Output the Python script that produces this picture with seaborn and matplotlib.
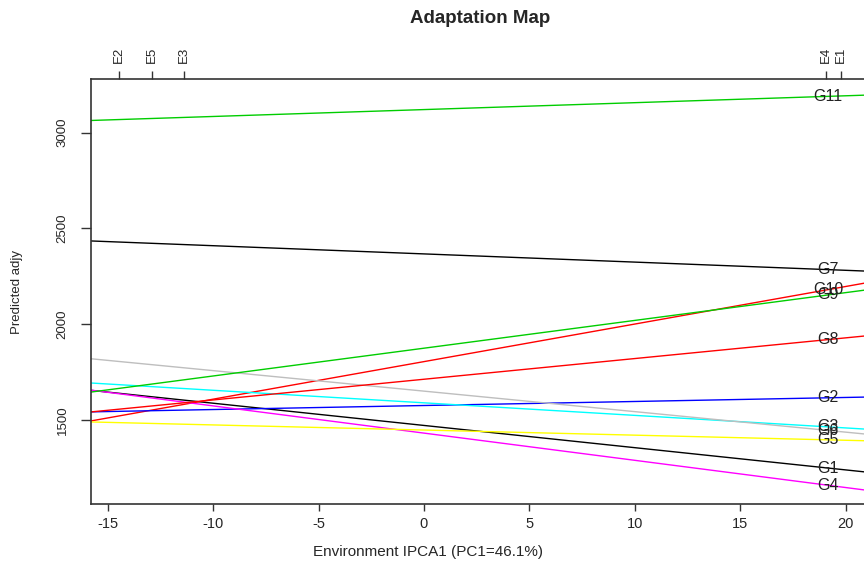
import matplotlib
matplotlib.use("Agg")
import matplotlib.pyplot as plt
import seaborn as sns
import pandas as pd

# genotype mean (value at IPCA1 = 0) and slope (IPCA1 sensitivity)
genotypes = ["G1", "G10", "G11", "G2", "G3", "G4", "G5", "G6", "G7", "G8", "G9"]
gen_mean = [1472, 1805, 3120, 1576, 1590, 1432, 1448, 1651, 2367, 1713, 1875]
gen_slope = [-11.6, 19.6, 3.6, 2.1, -6.55, -14.2, -2.67, -10.7, -4.28, 10.8, 14.5]
line_colors = ["#000000", "#FF0000", "#00CD00", "#0000FF", "#00FFFF", "#FF00FF",
               "#FFFF00", "#BEBEBE", "#000000", "#FF0000", "#00CD00"]

# environment IPCA1 scores
environments = ["E2", "E5", "E3", "E4", "E1"]
env_score = [-14.46, -12.90, -11.40, 19.06, 19.77]

x_lo, x_hi = -15.79, 21.15
label_x = 19.16

rows = []
for g, m, s in zip(genotypes, gen_mean, gen_slope):
    for xv in (x_lo, x_hi):
        rows.append({"ipca": xv, "pred": m + s * xv, "gen": g})
dados = pd.DataFrame(rows)

sns.set_style("ticks")
plt.rcParams["font.family"] = ["Liberation Sans", "DejaVu Sans"]
plt.rcParams["axes.unicode_minus"] = False

fig = plt.figure(figsize=(8.64, 5.66), dpi=100)
ax = fig.add_axes([0.1053, 0.1095, 0.9016, 0.7504])

sns.lineplot(data=dados, x="ipca", y="pred", hue="gen", hue_order=genotypes,
             palette=dict(zip(genotypes, line_colors)), linewidth=1.0,
             legend=False, ax=ax)

for g, m, s in zip(genotypes, gen_mean, gen_slope):
    ax.text(label_x, m + s * label_x, g, ha="center", va="center",
            fontsize=11.5, color="#222222")

ax.set_xlim(x_lo, x_hi)
ax.set_ylim(1062, 3278)
ax.set_xticks([-15, -10, -5, 0, 5, 10, 15, 20])
ax.set_yticks([1500, 2000, 2500, 3000])
ax.tick_params(axis="x", labelsize=10.5, length=5, width=1, color="#333333", pad=4)
ax.tick_params(axis="y", labelsize=9.5, length=7, width=1, color="#333333", pad=9)
plt.setp(ax.get_yticklabels(), rotation=90, va="center")
ax.set_xlabel("Environment IPCA1 (PC1=46.1%)", fontsize=11, va="center")
ax.xaxis.set_label_coords(0.4326, -0.113)
ax.set_ylabel("Predicted adjy", fontsize=9.5)
ax.yaxis.set_label_coords(-0.087, 0.5)
for sp in ax.spines.values():
    sp.set_linewidth(1.2)
    sp.set_color("#333333")

top = ax.secondary_xaxis("top")
top.set_xticks(env_score)
top.set_xticklabels(environments, rotation=90, fontsize=9.5)
top.tick_params(length=6, width=1, color="#333333", pad=6)
top.spines["top"].set_visible(False)

fig.text(0.5555, 0.968, "Adaptation Map", ha="center", va="center",
         fontsize=13.5, fontweight="bold")

plt.savefig("out.png", dpi=100)
